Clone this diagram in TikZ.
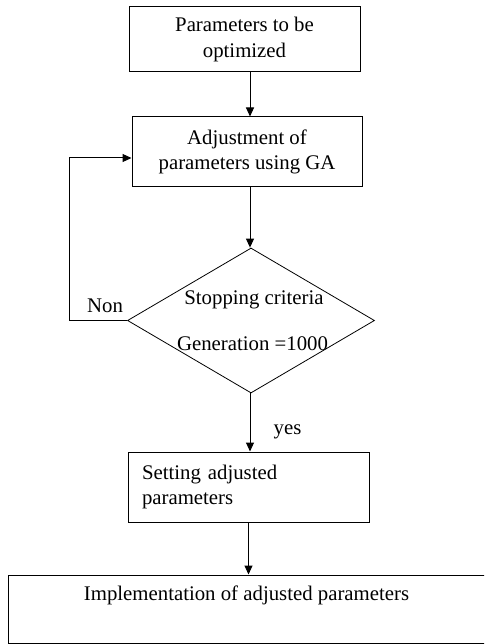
\documentclass[tikz,border=0pt]{standalone}
\usepackage{fontspec}
\setmainfont{Liberation Serif}
\usetikzlibrary{shapes.geometric,arrows.meta}
\begin{document}
\begin{tikzpicture}[x=1pt,y=-1pt,
  every node/.style={font=\fontsize{20.8}{25.5}\selectfont, inner sep=0pt},
  boxnode/.style={draw, line width=1pt, rectangle, align=center},
  arr/.style={line width=1pt, -{Triangle[length=9pt,width=8pt]}},
  lbl/.style={}]
\clip (0,0) rectangle (484,644);
\node[boxnode, minimum width=231pt, minimum height=65pt] (b1) at (244.5,39.5) {Parameters to be\\optimized};
\node[boxnode, minimum width=230pt, minimum height=70pt] (b2) at (247,152) {Adjustment of\\parameters using GA};
\node[draw, line width=0.8pt, diamond, minimum width=247pt, minimum height=145pt, inner sep=0pt] (dia) at (251,320.5) {};
\node[lbl] (s1) at (254,300) {Stopping criteria};
\node[lbl] (s2) at (252.5,344) {Generation =1000};
\node[boxnode, align=left, text width=213pt, inner xsep=14pt, minimum height=70pt] (b3) at (248.5,487) {Setting adjusted\\parameters};
\node[draw, line width=1pt, rectangle, minimum width=500pt, minimum height=68pt] (b4) at (258,609) {};
\node[lbl] (t4) at (246.5,595) {Implementation of adjusted parameters};
\node[lbl] (non) at (105,306) {Non};
\node[lbl] (yes) at (287.5,432) {yes};
\coordinate (c1) at (69,158);
\draw[arr] (b1.south -| 250,0) -- (b2.north -| 250,0);
\draw[arr] (b2.south -| 250,0) -- (dia.north -| 250,0);
\draw[arr] (dia.west) -| (c1) -- (c1 -| b2.west);
\draw[arr] (dia.south -| 250,0) -- (b3.north -| 250,0);
\draw[arr] (b3.south) -- (b3.south |- b4.north);
\end{tikzpicture}
\end{document}
